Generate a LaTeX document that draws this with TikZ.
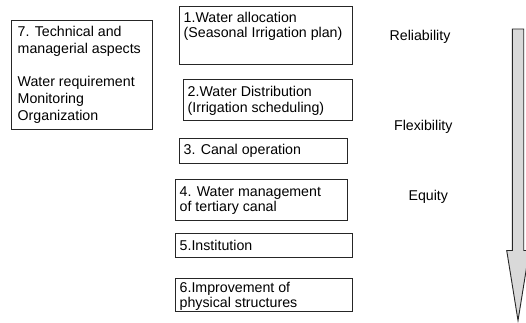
\documentclass[tikz,border=0pt]{standalone}
\usepackage{fontspec}
\setmainfont{Liberation Sans}
\begin{document}
\begin{tikzpicture}[x=1pt,y=-1pt,
  box/.style={draw=black!85,line width=0.9pt},
  txt/.style={anchor=base west,inner sep=0pt,font=\fontsize{14.2}{16}\selectfont},
  lbl/.style={anchor=base,inner sep=0pt,font=\fontsize{14.2}{16}\selectfont},
  bigarrow/.style={draw=black!85,line width=0.9pt,fill=black!15,line join=miter}]
\useasboundingbox (0,0) rectangle (526,323);
\clip (0,0) rectangle (526,323);
% box 7
\draw[box] (11.5,20) rectangle (152.7,129);
\node[txt] (t7a) at (17.5,37) {7. Technical and};
\node[txt] (t7b) at (17.5,54) {managerial aspects};
\node[txt] (t7c) at (17.5,87) {Water requirement};
\node[txt] (t7d) at (17.5,104) {Monitoring};
\node[txt] (t7e) at (17.5,121) {Organization};
% box 1
\draw[box] (179,6) rectangle (352.7,64.3);
\node[txt] (t1a) at (183.5,22.7) {1.Water allocation};
\node[txt] (t1b) at (183.5,37.5) {(Seasonal Irrigation plan)};
% box 2
\draw[box] (183.3,79.3) rectangle (352.3,120);
\node[txt] (t2a) at (187.5,96.3) {2.Water Distribution};
\node[txt] (t2b) at (187.5,113) {(Irrigation scheduling)};
% box 3
\draw[box] (179,138.3) rectangle (347.7,163.3);
\node[txt] (t3) at (183.5,154.7) {3. Canal operation};
% box 4
\draw[box] (175,179.3) rectangle (347.7,220);
\node[txt] (t4a) at (179.5,196.3) {4. Water management};
\node[txt] (t4b) at (179.5,211.3) {of tertiary canal};
% box 5
\draw[box] (175,233.3) rectangle (352.3,257.3);
\node[txt] (t5) at (179.5,250.7) {5.Institution};
% box 6
\draw[box] (175,278.3) rectangle (352.3,311.7);
\node[txt] (t6a) at (179.5,292.3) {6.Improvement of};
\node[txt] (t6b) at (179.5,307.3) {physical structures};
% labels
\node[lbl] (rel) at (420,40.7) {Reliability};
\node[lbl] (flex) at (423.3,131) {Flexibility};
\node[lbl] (eq) at (428.3,200) {Equity};
% arrow
\draw[bigarrow] (512.3,29) -- (523.7,29) -- (523.7,250.5) -- (529.3,250.5)
  -- (518,320.5) -- (506.7,250.5) -- (512.3,250.5) -- cycle;
\end{tikzpicture}
\end{document}
